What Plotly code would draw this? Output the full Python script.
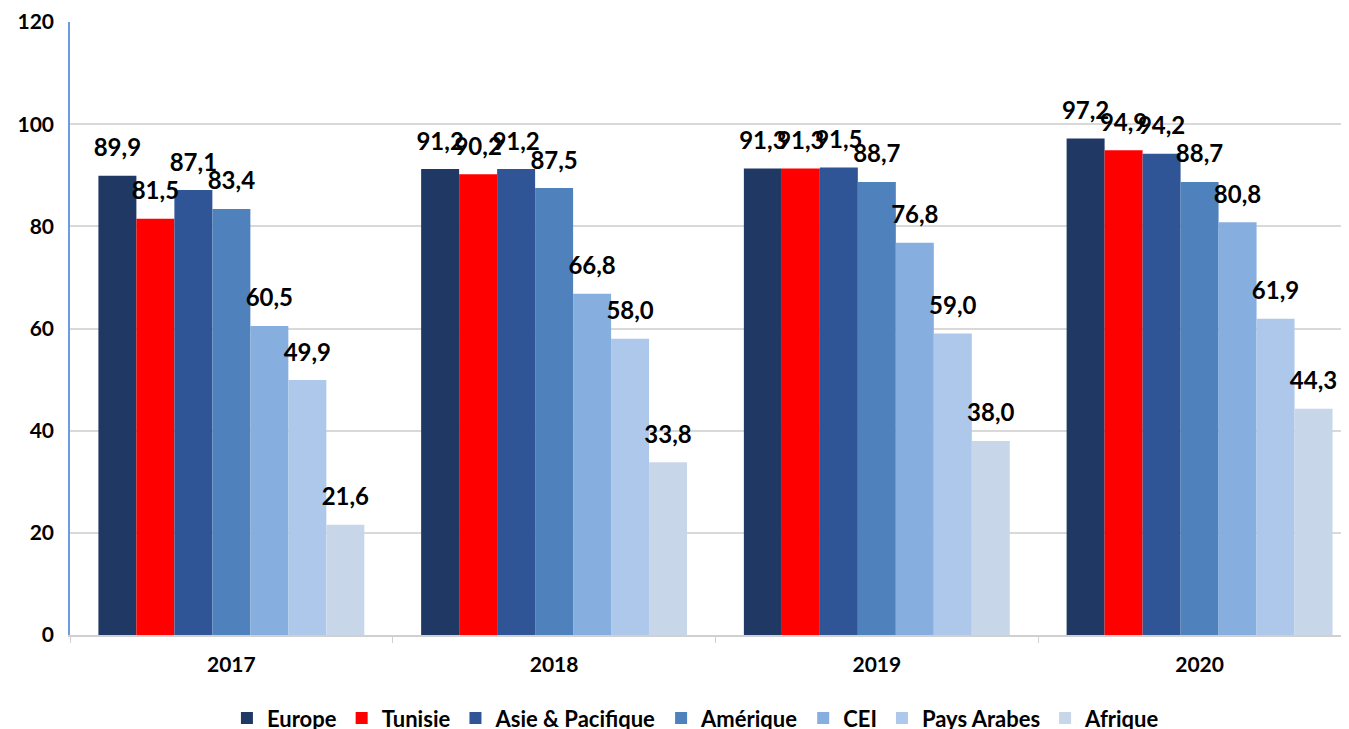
import plotly.graph_objects as go

years = ["2017", "2018", "2019", "2020"]
series_names = ["Europe", "Tunisie", "Asie & Pacifique", "Amérique", "CEI", "Pays Arabes", "Afrique"]
europe = [89.9, 91.2, 91.3, 97.2]
tunisie = [81.5, 90.2, 91.3, 94.9]
asie_pacifique = [87.1, 91.2, 91.5, 94.2]
amerique = [83.4, 87.5, 88.7, 88.7]
cei = [60.5, 66.8, 76.8, 80.8]
pays_arabes = [49.9, 58.0, 59.0, 61.9]
afrique = [21.6, 33.8, 38.0, 44.3]
y_ticks = [0, 20, 40, 60, 80, 100, 120]

series_values = [europe, tunisie, asie_pacifique, amerique, cei, pays_arabes, afrique]
colors = ["#203864", "#ff0000", "#2f5597", "#4f81bd", "#86aedf", "#adc8eb", "#c8d6ea"]

fig = go.Figure()
for name, vals, col in zip(series_names, series_values, colors):
    fig.add_trace(go.Bar(
        name=name, x=years, y=vals, marker_color=col,
        marker_line_width=0, offsetgroup=name,
    ))
for name, vals in zip(series_names, series_values):
    fig.add_trace(go.Scatter(
        x=years, y=vals, mode="markers+text", offsetgroup=name,
        marker=dict(size=20, opacity=0), showlegend=False, hoverinfo="skip",
        text=[f"{v:.1f}".replace(".", ",") for v in vals],
        textposition="top center", cliponaxis=False,
        textfont=dict(family="Lato", size=24, color="black", weight="bold"),
    ))

fig.update_layout(
    barmode="group", bargap=0.176, bargroupgap=0,
    scattermode="group", scattergap=0.176,
    width=1341, height=721,
    margin=dict(l=62, r=0, t=14, b=94),
    plot_bgcolor="white", paper_bgcolor="white",
    font=dict(family="Lato", color="black"),
    showlegend=True,
    legend=dict(orientation="h", xref="container", yref="container",
                x=0.513, xanchor="center", y=0.015, yanchor="middle",
                font=dict(size=22, family="Lato", weight="bold"), traceorder="normal",
                itemwidth=30),
)
fig.update_yaxes(range=[0, 120], tickvals=y_ticks, showgrid=True, gridcolor="#d9d9d9", gridwidth=1.5,
                 showline=True, linecolor="#6f9be0", linewidth=1.5, zeroline=False, automargin=False,
                 tickfont=dict(size=21, weight="bold"), ticks="", ticklabelstandoff=10)
fig.update_xaxes(range=[-0.5, 3.463], showline=True, linecolor="#d0d0d0", linewidth=1.5, automargin=False,
                 ticks="outside", tickson="boundaries", ticklen=6, tickcolor="#d0d0d0",
                 tickfont=dict(size=21, weight="bold"), ticklabelstandoff=10)

fig.write_html("out.html")
